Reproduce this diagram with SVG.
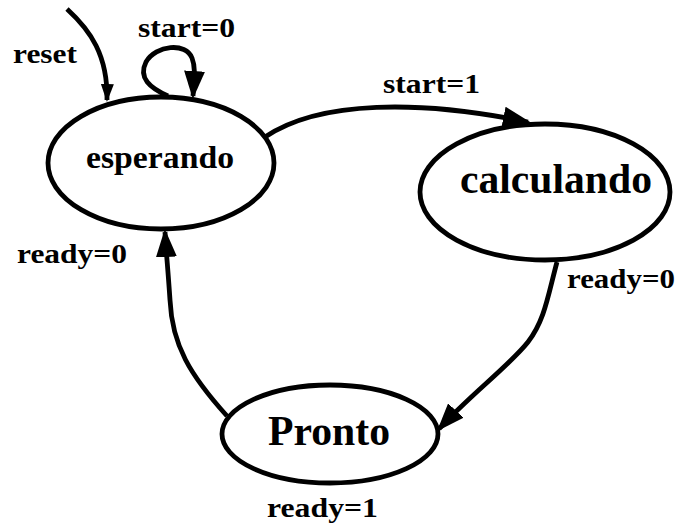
<svg xmlns="http://www.w3.org/2000/svg" width="680" height="525" viewBox="0 0 680 525">
<style>
.st{fill:none;stroke:#000;stroke-width:4.8}
.ed{fill:none;stroke:#000;stroke-width:4.8}
text{font-family:"Liberation Serif","Times New Roman",serif;font-weight:bold;fill:#000}
.nl{text-anchor:middle}
</style>
<defs>
<marker id="ah" viewBox="0 0 28 21" refX="25" refY="10.5" markerWidth="28" markerHeight="21" markerUnits="userSpaceOnUse" orient="auto">
<path d="M0,0 L28,10.5 L0,21 Z" fill="#000"/>
</marker>
<marker id="ahs" viewBox="0 0 18 13" refX="16" refY="6.5" markerWidth="18" markerHeight="13" markerUnits="userSpaceOnUse" orient="auto">
<path d="M0,0 L18,6.5 L0,13 Z" fill="#000"/>
</marker>
</defs>
<rect width="680" height="525" fill="#fff"/>
<g id="connectors">
<path class="ed" d="M67,9 C90,30 108,55 107,100" marker-end="url(#ahs)"/>
<path class="ed" d="M168,96 C150,88 138,78 146,62 C156,45 186,42 192,58 C196,68 194,80 193,96" marker-end="url(#ah)"/>
<path class="ed" d="M265,137 C320,100 420,100 528,122" marker-end="url(#ah)"/>
<path class="ed" d="M557,262 C548,295 545,320 528,342 C510,365 470,395 439,429" marker-end="url(#ah)"/>
<path class="ed" d="M227,416 C190,375 172,345 170,300 C168,270 166,250 165,232" marker-end="url(#ah)"/>
</g>
<g id="esperando">
<ellipse class="st" cx="161" cy="163" rx="113" ry="66"/>
<text class="nl" x="160" y="168" font-size="32" textLength="148" lengthAdjust="spacingAndGlyphs">esperando</text>
</g>
<g id="calculando">
<ellipse class="st" cx="545" cy="192" rx="125" ry="68"/>
<text class="nl" x="556" y="193" font-size="42" textLength="192" lengthAdjust="spacingAndGlyphs">calculando</text>
</g>
<g id="pronto">
<ellipse class="st" cx="330" cy="434" rx="108" ry="49"/>
<text class="nl" x="329" y="445" font-size="42" textLength="122" lengthAdjust="spacingAndGlyphs">Pronto</text>
</g>
<g id="labels">
<text x="13" y="63" font-size="28" textLength="64" lengthAdjust="spacingAndGlyphs">reset</text>
<text x="138" y="37" font-size="27" textLength="97" lengthAdjust="spacingAndGlyphs">start=0</text>
<text x="383" y="93" font-size="27" textLength="97" lengthAdjust="spacingAndGlyphs">start=1</text>
<text x="17" y="263" font-size="27" textLength="110" lengthAdjust="spacingAndGlyphs">ready=0</text>
<text x="567" y="288" font-size="27" textLength="108" lengthAdjust="spacingAndGlyphs">ready=0</text>
<text x="267" y="517" font-size="27" textLength="111" lengthAdjust="spacingAndGlyphs">ready=1</text>
</g>
</svg>
